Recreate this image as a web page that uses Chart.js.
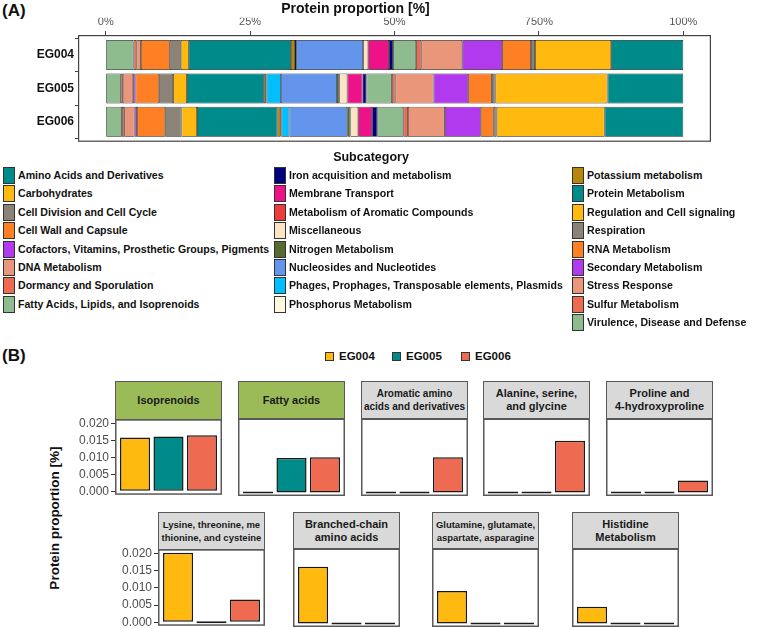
<!DOCTYPE html>
<html>
<head>
<meta charset="utf-8">
<script src="https://cdn.jsdelivr.net/npm/chart.js@4.4.0/dist/chart.umd.min.js"></script>
<style>
body { margin: 0; width: 760px; height: 629px; position: relative; background: #fff; overflow: hidden;
       font-family: "Liberation Sans", Arial, sans-serif; }
canvas { position: absolute; }
.txt { position: absolute; white-space: nowrap; color: #111; font-weight: bold; }
.sw { position: absolute; box-sizing: border-box; border: 1.5px solid #333; }
.strip { position: absolute; box-sizing: border-box; border: 1.5px solid #595959; display: flex;
         align-items: center; justify-content: center; text-align: center; font-weight: bold;
         color: #1a1a1a; line-height: 13px; }
</style>
</head>
<body>
<div class="txt" style="left:2px;top:1px;font-size:17px;line-height:20px">(A)</div>
<div class="txt" style="left:2px;top:346px;font-size:17px;line-height:20px">(B)</div>
<canvas id="stackChart" width="760" height="150" style="left:0;top:0"></canvas>
<div id="legendA"></div>
<div id="legendB"></div>
<div id="facets"></div>
<div class="txt" style="left:-45px;top:510px;width:200px;text-align:center;font-size:13.5px;line-height:16px;transform:rotate(-90deg)">Protein proportion [%]</div>
<script>
// ---- panel A data (legend order, percent of proteins) ----
var samples = ["EG004", "EG005", "EG006"];
var subcategories = [
    "Amino Acids and Derivatives", "Carbohydrates", "Cell Division and Cell Cycle", "Cell Wall and Capsule",
    "Cofactors, Vitamins, Prosthetic Groups, Pigments", "DNA Metabolism", "Dormancy and Sporulation",
    "Fatty Acids, Lipids, and Isoprenoids", "Iron acquisition and metabolism", "Membrane Transport",
    "Metabolism of Aromatic Compounds", "Miscellaneous", "Nitrogen Metabolism", "Nucleosides and Nucleotides",
    "Phages, Prophages, Transposable elements, Plasmids", "Phosphorus Metabolism", "Potassium metabolism",
    "Protein Metabolism", "Regulation and Cell signaling", "Respiration", "RNA Metabolism",
    "Secondary Metabolism", "Stress Response", "Sulfur Metabolism", "Virulence, Disease and Defense"
];
var eg004 = [12.5, 13.2, 0.7, 5.0, 6.9, 7.1, 0.9, 4.0, 0.7, 3.6, 0, 0.9, 0, 11.6, 0, 0.2, 0.7, 17.7, 1.4, 1.9, 5.0, 0, 0.8, 0.5, 4.8];
var eg005 = [13.1, 19.4, 0.6, 4.1, 6.0, 6.6, 0.6, 4.4, 0.7, 2.6, 0, 1.4, 0.4, 9.7, 2.5, 0.1, 0.35, 13.3, 2.4, 2.4, 4.1, 0.4, 1.8, 0.35, 2.6];
var eg006 = [13.6, 18.7, 0.5, 2.25, 6.2, 6.4, 0.8, 4.5, 0.9, 2.4, 0, 1.35, 0.55, 10.0, 1.4, 0.1, 0.6, 13.9, 2.7, 2.8, 4.9, 0.4, 1.8, 0.4, 2.8];
var xTicksA = [0, 25, 50, 75, 100];
var xTickLabelsA = ["0%", "25%", "50%", "750%", "100%"];

// ---- panel B data ----
var facetTitles = [
    ["Isoprenoids"], ["Fatty acids"], ["Aromatic amino", "acids and derivatives"], ["Alanine, serine,", "and glycine"],
    ["Proline and", "4-hydroxyproline"], ["Lysine, threonine, me", "thionine, and cysteine"],
    ["Branched-chain", "amino acids"], ["Glutamine, glutamate,", "aspartate, asparagine"], ["Histidine", "Metabolism"]
];
var b004 = [0.0158, 0, 0, 0, 0, 0.0202, 0.0159, 0.0091, 0.0047];
var b005 = [0.0161, 0.0098, 0, 0, 0, 0, 0, 0, 0];
var b006 = [0.0165, 0.0100, 0.0100, 0.0147, 0.0034, 0.0066, 0, 0, 0];
var yTicksB = [0, 0.005, 0.010, 0.015, 0.020];

// colours
var palette = ["#008B8B", "#FFB90F", "#8B8378", "#FF7F24", "#B23AEE", "#E9967A", "#EE6A50", "#8FBC8F",
    "#000080", "#EE1289", "#EE3B3B", "#FFE4C4", "#556B2F", "#6495ED", "#00BFFF", "#FFF8DC",
    "#B8860B", "#008B8B", "#FFB90F", "#8B8378", "#FF7F24", "#B23AEE", "#E9967A", "#EE6A50", "#8FBC8F"];
var sampleColors = ["#FFB90F", "#008B8B", "#EE6A50"];

Chart.defaults.font.family = '"Liberation Sans", Arial, sans-serif';

var boxPlugin = {
    id: "panelBox",
    afterDraw(chart, args, opts) {
        const a = chart.chartArea, ctx = chart.ctx, lw = opts.width || 1;
        ctx.save();
        ctx.strokeStyle = opts.color || "#444";
        ctx.lineWidth = lw;
        ctx.strokeRect(a.left + lw / 2, a.top + lw / 2, a.right - a.left - lw, a.bottom - a.top - lw);
        ctx.restore();
    }
};

// ---- panel A : stacked proportions ----
var rows = [eg004, eg005, eg006];
var rowSums = rows.map(r => r.reduce((s, v) => s + v, 0));
var stackDatasets = [];
for (let k = subcategories.length - 1; k >= 0; k--) {
    stackDatasets.push({
        label: subcategories[k],
        data: rows.map((r, i) => ({ x: r[k] / rowSums[i] * 100, y: i + 1 })),
        backgroundColor: palette[k],
        borderColor: "#1a1a1a",
        borderWidth: 0.75,
        borderSkipped: false,
        barPercentage: 0.9,
        categoryPercentage: 1
    });
}

new Chart(document.getElementById("stackChart"), {
    type: "bar",
    data: { datasets: stackDatasets },
    options: {
        indexAxis: "y",
        responsive: false,
        animation: false,
        layout: { padding: { left: 0, right: 49, top: 0, bottom: 4.5 } },
        plugins: {
            legend: { display: false },
            tooltip: { enabled: false },
            title: { display: true, text: "Protein proportion [%]", color: "#111",
                     font: { size: 14, weight: "bold" }, padding: { top: 1, bottom: 0 } },
            panelBox: { color: "#444", width: 1.2 }
        },
        scales: {
            x: {
                type: "linear", position: "top", stacked: true, min: -4.8, max: 104.8,
                afterBuildTicks: s => { s.ticks = xTicksA.map(v => ({ value: v })); },
                afterFit: s => { s.height = 35 - 17.8; },
                ticks: { callback: (v) => xTickLabelsA[xTicksA.indexOf(v)], color: "#555", font: { size: 11 }, padding: 2, maxRotation: 0 },
                grid: { drawOnChartArea: false, tickLength: 4, color: "#444" },
                border: { display: false }
            },
            y: {
                type: "linear", stacked: true, min: 0.4, max: 3.6, reverse: true, offset: false,
                afterBuildTicks: s => { s.ticks = [1, 2, 3].map(v => ({ value: v })); },
                afterFit: s => { s.width = 78; },
                ticks: { callback: (v) => samples[v - 1], color: "#111", font: { size: 12, weight: "bold" }, padding: 1 },
                grid: { drawOnChartArea: false, tickLength: 3, color: "#444" },
                border: { display: false }
            }
        }
    },
    plugins: [boxPlugin]
});

// ---- panel A legend (html) ----
var legA = document.getElementById("legendA");
var html = '<div class="txt" style="left:296px;width:150px;text-align:center;top:149px;font-size:12.5px;line-height:16px">Subcategory</div>';
var colX = [3, 274, 572];
subcategories.forEach((name, k) => {
    const col = k < 8 ? 0 : (k < 16 ? 1 : 2);
    const row = k - [0, 8, 16][col];
    const top = 167 + row * 18.4;
    html += '<div class="sw" style="left:' + colX[col] + 'px;top:' + top + 'px;width:12px;height:17px;background:' + palette[k] + '"></div>';
    html += '<div class="txt" style="left:' + (colX[col] + 15) + 'px;top:' + top + 'px;line-height:17px;font-size:10.6px">' + name + '</div>';
});
legA.innerHTML = html;

// ---- panel B legend ----
var legB = document.getElementById("legendB");
var legBX = [325, 392, 461];
html = "";
samples.forEach((s, i) => {
    html += '<div class="sw" style="left:' + legBX[i] + 'px;top:352px;width:9px;height:9px;border-width:1.2px;background:' + sampleColors[i] + '"></div>';
    html += '<div class="txt" style="left:' + (legBX[i] + 14) + 'px;top:349px;line-height:15px;font-size:11.5px">' + s + '</div>';
});
legB.innerHTML = html;

// ---- panel B facets ----
var facetLeft = [115, 238, 361, 483, 606, 158, 293, 432, 572];
var facetRow = [0, 0, 0, 0, 0, 1, 1, 1, 1];
var rowPanelTop = [418, 548];
var rowPanelH = [78, 79];
var rowStripTop = [381, 512];
var stripFont = [11, 11, 10, 11, 11, 9.5, 11, 9.5, 11];
var facetW = 107, axisW = 48;
var bVals = [b004, b005, b006];
var holder = document.getElementById("facets");

facetTitles.forEach((title, i) => {
    const r = facetRow[i];
    const x = facetLeft[i];
    const hasAxis = (i === 0 || i === 5);
    const strip = document.createElement("div");
    strip.className = "strip";
    strip.style.left = x + "px";
    strip.style.top = rowStripTop[r] + "px";
    strip.style.width = facetW + "px";
    strip.style.height = (rowPanelTop[r] - rowStripTop[r] + 1.5) + "px";
    strip.style.background = i < 2 ? "#9BBB59" : "#D9D9D9";
    strip.style.fontSize = stripFont[i] + "px";
    strip.innerHTML = title.join("<br>");
    holder.appendChild(strip);

    const cv = document.createElement("canvas");
    const w = facetW + (hasAxis ? axisW : 0);
    const h = rowPanelH[r] + 16;
    cv.width = w; cv.height = h;
    cv.style.left = (x - (hasAxis ? axisW : 0)) + "px";
    cv.style.top = (rowPanelTop[r] - 8) + "px";
    holder.appendChild(cv);

    new Chart(cv, {
        type: "bar",
        data: {
            datasets: [{
                data: samples.map((s, k) => ({ x: k + 1, y: bVals[k][i] })),
                backgroundColor: sampleColors,
                borderColor: "#1a1a1a",
                borderWidth: 1.5,
                borderSkipped: false,
                minBarLength: 2,
                barPercentage: 0.9,
                categoryPercentage: 1
            }]
        },
        options: {
            responsive: false,
            animation: false,
            layout: { padding: { top: 8, bottom: 8, left: 0, right: 0 } },
            plugins: { legend: { display: false }, tooltip: { enabled: false }, panelBox: { color: "#595959", width: 1.5 } },
            scales: {
                x: {
                    type: "linear", min: 0.4, max: 3.6, offset: false, display: false,
                    afterBuildTicks: s => { s.ticks = [1, 2, 3].map(v => ({ value: v })); }
                },
                y: {
                    min: -0.00101, max: 0.0212, display: hasAxis,
                    afterBuildTicks: s => { s.ticks = yTicksB.map(v => ({ value: v })); },
                    afterFit: s => { if (hasAxis) s.width = axisW; },
                    ticks: { callback: (v) => v.toFixed(3), color: "#4d4d4d", font: { size: 12 }, padding: 2 },
                    grid: { drawOnChartArea: false, tickLength: 4, color: "#333" },
                    border: { display: false }
                }
            }
        },
        plugins: [boxPlugin]
    });
});
</script>
</body>
</html>
